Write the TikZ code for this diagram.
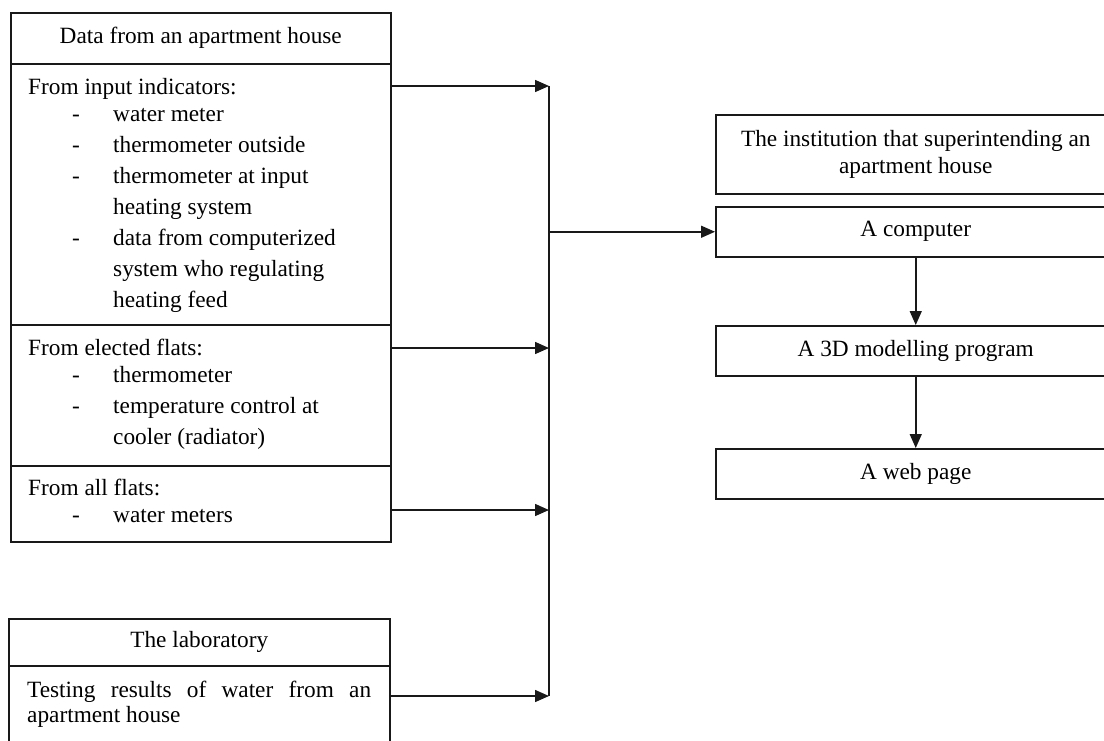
\documentclass[tikz,border=0pt]{standalone}
\usepackage{fontspec}
\setmainfont{Liberation Serif}
\usepackage{xcolor}
\usepackage{tikz}
\usetikzlibrary{arrows.meta, positioning}
\definecolor{lineblack}{RGB}{25, 25, 25}

% item dash and continuation indent
\newcommand{\itm}{\hspace*{44pt}\makebox[41pt][l]{-}}
\newcommand{\cnt}{\hspace*{85pt}}

\tikzset{
    box/.style={draw=lineblack, line width=1.5pt, rectangle, inner sep=0pt, anchor=north west, font=\fontsize{23.3}{27}\selectfont, align=center},
    listtxt/.style={inner sep=0pt, align=left, anchor=base west, font=\fontsize{23.3}{31}\selectfont},
    arr/.style={draw=lineblack, line width=1.5pt, -{Triangle[length=14pt, width=12pt]}},
}

\begin{document}
\begin{tikzpicture}[x=1pt, y=-1pt]

    \useasboundingbox (0,0) rectangle (1104,740);
    \clip (0,0) rectangle (1104,740);

    % Data from an apartment house
    \node[box, minimum width=380, minimum height=51] (house) at (10,12) {Data from an apartment house};
    \node[box, minimum width=380, minimum height=261] (inp) at (10,63) {};
    \node[box, minimum width=380, minimum height=141] (elect) at (10,324) {};
    \node[box, minimum width=380, minimum height=76] (allf) at (10,465) {};

    % text blocks sit on the baseline of their last line
    \node[listtxt] (inptxt) at (28,307) {From input indicators:\\[-4pt]
        \itm water meter\\
        \itm thermometer outside\\
        \itm thermometer at input\\
        \cnt heating system\\
        \itm data from computerized\\
        \cnt system who regulating\\
        \cnt heating feed};
    \node[listtxt] (electtxt) at (28,444) {From elected flats:\\[-4pt]
        \itm thermometer\\
        \itm temperature control at\\
        \cnt cooler (radiator)};
    \node[listtxt] (allftxt) at (28,522) {From all flats:\\[-4pt]
        \itm water meters};

    % The laboratory
    \node[box, minimum width=381, minimum height=47] (lab) at (8,618) {The laboratory};
    \node[box, minimum width=381, minimum height=120] (test) at (8,665) {};
    \node[listtxt] (testtxt) at (27,722) {\makebox[344pt][s]{Testing results of water from an}\\[-6pt]
        apartment house};

    % Institution side
    \node[box, minimum width=400, minimum height=79] (inst) at (715,114) {The institution that superintending an\\apartment house};
    \node[box, minimum width=400, minimum height=50] (comp) at (715,206) {A computer};
    \node[box, minimum width=400, minimum height=50] (model) at (715,325) {A 3D modelling program};
    \node[box, minimum width=400, minimum height=50] (web) at (715,448) {A web page};

    % Collecting line
    \coordinate (bustop) at (549,86);
    \coordinate (bus2) at (549,348);
    \coordinate (bus3) at (549,510);
    \coordinate (busbot) at (549,696);
    \draw[lineblack, line width=1.5pt] (bustop) -- (busbot);

    % Arrows into the collecting line
    \draw[arr] (inp.east |- bustop) -- (bustop);
    \draw[arr] (elect.east |- bus2) -- (bus2);
    \draw[arr] (allf.east |- bus3) -- (bus3);
    \draw[arr] (test.east |- busbot) -- (busbot);

    % Arrows on the right
    \draw[arr] (bustop |- comp.west) -- (comp.west);
    \draw[arr] (comp) -- (model);
    \draw[arr] (model) -- (web);

\end{tikzpicture}
\end{document}
